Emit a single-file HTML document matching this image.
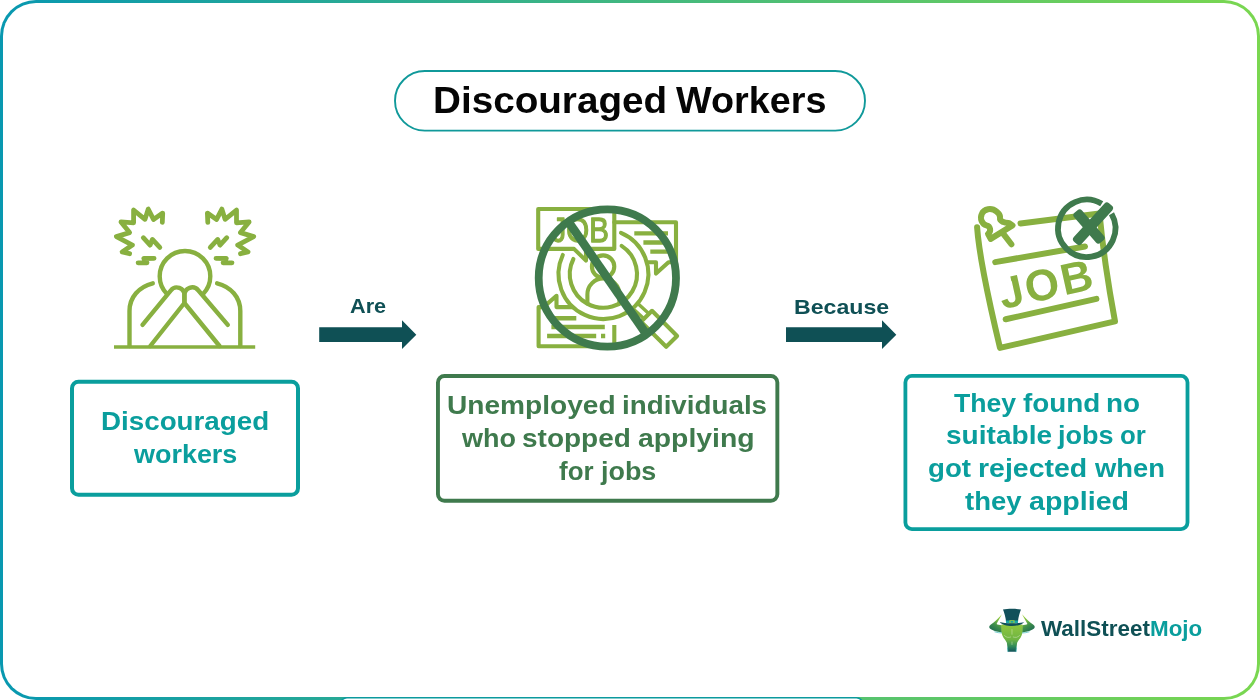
<!DOCTYPE html>
<html lang="en">
<head>
<meta charset="utf-8">
<title>Discouraged Workers</title>
<style>
  html, body { margin: 0; padding: 0; background: #ffffff; }
  body { width: 1260px; height: 700px; position: relative; overflow: hidden;
         font-family: "Liberation Sans", sans-serif; font-weight: bold; }
  .frame { position: absolute; left: 0; top: 0; width: 1260px; height: 700px; border-radius: 36px;
           background: linear-gradient(to right, #0898b0 0%, #7ad750 100%); }
  .frame-inner { position: absolute; left: 3px; top: 3px; width: 1254px; height: 694px; border-radius: 33px; background: #ffffff; }
  #labels { position: absolute; left: 0; top: 0; width: 1260px; height: 700px; will-change: transform; }
  .t { position: absolute; white-space: nowrap; line-height: 1; transform-origin: 0 0; }
  .teal { color: #0a9e9d; }
  .dgreen { color: #3f7a4d; }
  .dteal { color: #0f5055; }
  .blk { color: #050505; }
  .mojo { color: #0a9e9d; }
  svg { position: absolute; left: 0; top: 0; will-change: transform; }
</style>
</head>
<body>
<div class="frame"></div>
<div class="frame-inner"></div>

<svg id="boxes" width="1260" height="700" viewBox="0 0 1260 700">
  <rect x="340.3" y="697.75" width="522.8" height="30" rx="6.7" fill="#ffffff" stroke="#0c9a9e" stroke-width="1.5"/>
  <rect x="395" y="71" width="470" height="59.6" rx="29.8" fill="#ffffff" stroke="#10999a" stroke-width="1.9"/>
  <rect x="72" y="381.8" width="226" height="113" rx="6.5" fill="#ffffff" stroke="#0a9e9d" stroke-width="4"/>
  <rect x="437.95" y="375.95" width="339.4" height="124.85" rx="6.5" fill="#ffffff" stroke="#3f7a4d" stroke-width="3.9"/>
  <rect x="905.4" y="375.9" width="282.1" height="153.2" rx="6.5" fill="#ffffff" stroke="#0a9e9d" stroke-width="3.8"/>
</svg>
<div id="labels">
<!--TEXT-START-->
<div class="t blk" id="t-title1" style="left:433.07px;top:82.98px;font-size:36px;transform:scaleX(1.0736)">Discouraged</div>
<div class="t blk" id="t-title2" style="left:675.87px;top:82.98px;font-size:36px;transform:scaleX(1.0489)">Workers</div>
<div class="t dteal" id="t-are" style="left:349.76px;top:295.98px;font-size:20.4px;transform:scaleX(1.0624)">Are</div>
<div class="t dteal" id="t-because" style="left:793.89px;top:297.01px;font-size:20.6px;transform:scaleX(1.1243)">Because</div>
<div class="t teal" id="b1l1" style="left:100.83px;top:408.96px;font-size:25.5px;transform:scaleX(1.0885)">Discouraged</div>
<div class="t teal" id="b1l2" style="left:133.80px;top:441.96px;font-size:25.5px;transform:scaleX(1.0565)">workers</div>
<div class="t dgreen" id="b2l1a" style="left:447.47px;top:392.96px;font-size:25.5px;transform:scaleX(1.1016)">Unemployed</div>
<div class="t dgreen" id="b2l1b" style="left:621.98px;top:392.96px;font-size:25.5px;transform:scaleX(1.0890)">individuals</div>
<div class="t dgreen" id="b2l2a" style="left:461.50px;top:425.96px;font-size:25.5px;transform:scaleX(1.0581)">who</div>
<div class="t dgreen" id="b2l2b" style="left:521.90px;top:425.96px;font-size:25.5px;transform:scaleX(1.0980)">stopped</div>
<div class="t dgreen" id="b2l2c" style="left:637.85px;top:425.96px;font-size:25.5px;transform:scaleX(1.1124)">applying</div>
<div class="t dgreen" id="b2l3a" style="left:559.21px;top:458.96px;font-size:25.5px;transform:scaleX(1.0168)">for</div>
<div class="t dgreen" id="b2l3b" style="left:600.89px;top:458.96px;font-size:25.5px;transform:scaleX(1.0557)">jobs</div>
<div class="t teal" id="b3l1a" style="left:954.13px;top:390.96px;font-size:25.5px;transform:scaleX(1.0442)">They</div>
<div class="t teal" id="b3l1b" style="left:1023.31px;top:390.96px;font-size:25.5px;transform:scaleX(1.0915)">found</div>
<div class="t teal" id="b3l1c" style="left:1105.92px;top:390.96px;font-size:25.5px;transform:scaleX(1.0924)">no</div>
<div class="t teal" id="b3l2a" style="left:945.99px;top:422.96px;font-size:25.5px;transform:scaleX(1.1009)">suitable</div>
<div class="t teal" id="b3l2b" style="left:1058.39px;top:422.96px;font-size:25.5px;transform:scaleX(1.0595)">jobs</div>
<div class="t teal" id="b3l2c" style="left:1120.48px;top:422.96px;font-size:25.5px;transform:scaleX(1.0134)">or</div>
<div class="t teal" id="b3l3a" style="left:928.21px;top:455.96px;font-size:25.5px;transform:scaleX(1.0846)">got</div>
<div class="t teal" id="b3l3b" style="left:977.59px;top:455.96px;font-size:25.5px;transform:scaleX(1.1170)">rejected</div>
<div class="t teal" id="b3l3c" style="left:1094.90px;top:455.96px;font-size:25.5px;transform:scaleX(1.0718)">when</div>
<div class="t teal" id="b3l4a" style="left:965.22px;top:488.96px;font-size:25.5px;transform:scaleX(1.0792)">they</div>
<div class="t teal" id="b3l4b" style="left:1029.14px;top:488.96px;font-size:25.5px;transform:scaleX(1.1208)">applied</div>
<div class="t dteal" id="t-logo1" style="left:1040.87px;top:619.03px;font-size:21.4px;transform:scaleX(1.0491)">WallStreet</div>
<div class="t mojo" id="t-logo2" style="left:1149.96px;top:619.03px;font-size:21.4px;transform:scaleX(1.0466)">Mojo</div>
<!--TEXT-END-->
</div>

<svg id="art" width="1260" height="700" viewBox="0 0 1260 700">
  <!-- icon 1: stressed person -->
  <g id="icon1" fill="none" stroke="#88b040" stroke-width="4.4" stroke-linecap="round" stroke-linejoin="round">
    <path d="M114 347H255.2" stroke-width="3.6" stroke-linecap="butt"/>
    <path d="M167.1 294.2A25.3 25.3 0 1 1 202.9 294.2"/>
    <path d="M152.8 283.3C139 286.8 129.5 297 129.5 311V346"/>
    <path d="M217.1 283.3C230.8 286.8 240.3 297 240.3 311V346"/>
    <path d="M142.5 324.9L170.9 290.3A7.6 7.6 0 0 1 184.4 295.1V303L150.3 346"/>
    <path d="M227.8 324.9L198.2 290.2A7.8 7.8 0 0 0 184.4 295.1V303L219.5 346"/>
    <g id="burstL" stroke-width="4.8">
      <path d="M162.3 222.3L162.7 213.1L153.5 219.4L148.2 209.1L145 219.4L133.6 210.1L133.6 222.8L121 221.9L129.6 232.6L116.4 236.6L132.4 245.1L122.1 252L129.6 253.7"/>
      <path d="M143.3 237.7L150.1 245.1L152.4 239.4L159.8 247.4"/>
      <path d="M138.1 262.8L147 262.8L143.8 258.5L154.1 258.3"/>
    </g>
    <g id="burstR" stroke-width="4.8" transform="translate(370.1 0) scale(-1 1)">
      <path d="M162.3 222.3L162.7 213.1L153.5 219.4L148.2 209.1L145 219.4L133.6 210.1L133.6 222.8L121 221.9L129.6 232.6L116.4 236.6L132.4 245.1L122.1 252L129.6 253.7"/>
      <path d="M143.3 237.7L150.1 245.1L152.4 239.4L159.8 247.4"/>
      <path d="M138.1 262.8L147 262.8L143.8 258.5L154.1 258.3"/>
    </g>
  </g>
  <!-- icon 2: job search crossed out -->
  <g id="icon2" fill="none" stroke="#88b040" stroke-width="4.1" stroke-linejoin="round" stroke-linecap="round">
    <!-- JOB bubble -->
    <path d="M614.3 248.9H586V260.6L574 248.9H538.2V209H614.3Z"/>
    <!-- right bubble -->
    <path d="M614.3 222.3H676V262.3H668.5L656 273.6V262.3H647"/>
    <path d="M634.3 233.4H668M643.4 242.5H668M650.3 251.6H668" stroke-width="4.4" stroke-linecap="butt"/>
    <!-- bottom-left bubble -->
    <path d="M573 307.1H556.5V295.8L543.5 307.1H538.6V346.2H614.3V325" stroke-linecap="butt"/>
    <path d="M551.4 318.3H576.3M551.4 327H604.8M547.1 336H596.2M601 336H605.2" stroke-width="4.4" stroke-linecap="butt"/>
    <!-- magnifier -->
    <path d="M621.0 232.8A44.9 44.9 0 1 1 562.8 255.0"/>
    <path d="M621.6 245.9A33.6 33.6 0 1 1 573.4 259.0"/>
    <circle cx="603.1" cy="266.6" r="11.2"/>
    <path d="M587.4 303.4V294.4A16 16 0 0 1 619.4 294.4V303.4"/>
    <!-- handle -->
    <path d="M638.9 304.6L649 313.75M633.9 309.6L644 318.75" stroke-width="3.4"/>
    <path d="M652 310.8L677.1 336L666.2 346.8L641 321.7Z"/>
  </g>
  <text id="job2" x="0" y="0" transform="translate(551.6 241.5) scale(0.853 1)" font-family="'Liberation Sans', sans-serif" font-weight="normal" font-size="34.5" fill="#88b040" stroke="#88b040" stroke-width="1.3" stroke-linejoin="round">JOB</text>
  <g id="ban" fill="none" stroke="#3f7a4d">
    <circle cx="607.35" cy="278.05" r="68.65" stroke-width="7.8"/>
    <path d="M568.1 221.3L646.7 334.8" stroke-width="8.6"/>
  </g>
  <!-- icon 3: job notice rejected -->
  <g id="icon3" fill="none" stroke="#88b040" stroke-width="6" stroke-linecap="round" stroke-linejoin="round">
    <path d="M977.1 227.3Q979.5 262 1000 347.9L1115 321.4Q1104 262 1099.5 213.5"/>
    <path d="M1020.5 223.4L1099.5 213.5"/>
    <path d="M995.2 262.1L1085 246.5"/>
    <path d="M1005.7 319.3L1096.4 298.9"/>
    <path d="M990.7 238.9L988.0 233.9C991.4 231.4 990.7 226.4 986.4 225.4C982.1 224.3 979.6 218.6 981.8 213.9C983.9 208.9 991.4 207.1 996.8 211.8C999.3 213.9 1000.4 215.4 1000.0 217.9C999.6 221.4 1004.3 222.9 1008.9 222.9L1012.5 225.4L990.7 238.9Z"/>
    <path d="M1003.2 233.6L1011.4 244.3"/>
  </g>
  <g transform="translate(1002.4 309.2) rotate(-12.5)"><text id="job3" x="0" y="0" font-family="'Liberation Sans', sans-serif" font-weight="bold" font-size="44" letter-spacing="2.35" fill="#88b040">JOB</text><rect x="4" y="-33.5" width="10.8" height="9" fill="#ffffff"/></g>
  <g id="reject" fill="#3f7a4d" stroke="none">
    <path id="rejring" fill="none" stroke="#3f7a4d" stroke-width="5.8" d="M1111.5 213.8A28.7 28.7 0 1 1 1101.7 203.8"/>
    <rect x="-19.85" y="-5.2" width="39.7" height="10.4" rx="3.2" transform="translate(1089 226.5) rotate(49.1)"/>
    <rect x="-26" y="-5.2" width="52" height="10.4" rx="3.2" transform="translate(1093 223.75) rotate(-47.7)"/>
  </g>
  <!-- logo bull -->
  <defs>
    <linearGradient id="gHead" x1="0" y1="0" x2="0" y2="1"><stop offset="0" stop-color="#8fc73e"/><stop offset="0.55" stop-color="#6fb443"/><stop offset="0.8" stop-color="#2f8a5a"/><stop offset="1" stop-color="#11505a"/></linearGradient>
    <linearGradient id="gHornL" x1="0.8" y1="0" x2="0.35" y2="1"><stop offset="0" stop-color="#a4d43a"/><stop offset="0.38" stop-color="#6fb443"/><stop offset="0.62" stop-color="#3f8f4b"/><stop offset="1" stop-color="#1d6a52"/></linearGradient>
    <linearGradient id="gHornR" x1="0.2" y1="0" x2="0.65" y2="1"><stop offset="0" stop-color="#a4d43a"/><stop offset="0.38" stop-color="#6fb443"/><stop offset="0.62" stop-color="#3f8f4b"/><stop offset="1" stop-color="#1d6a52"/></linearGradient>
  </defs>
  <g id="bull" transform="translate(982 600) scale(0.08569)">
    <path fill="url(#gHornL)" d="M232 165C190 215 150 255 100 290C75 308 80 330 110 345C150 365 195 375 232 378L232 295C205 292 180 290 170 280C185 245 215 205 232 165Z"/>
    <path fill="url(#gHornR)" d="M468 165C510 215 550 255 600 290C625 308 620 330 590 345C550 365 505 375 468 378L468 295C495 292 520 290 530 280C515 245 485 205 468 165Z"/>
    <path fill="url(#gHead)" d="M228 285H472C476 330 474 380 462 415C448 450 420 470 410 500C404 535 402 570 398 605H302C298 570 296 535 290 500C280 470 252 450 238 415C226 380 224 330 228 285Z"/>
    <path fill="none" stroke="#22b0b0" stroke-width="7" stroke-linecap="round" d="M299 560L303 603M401 560L397 603M150 372C175 380 205 384 228 385M550 372C525 380 495 384 472 385"/>
    <path fill="none" stroke="#e6f3d4" stroke-width="5" stroke-linecap="round" d="M350 345V400M262 415C285 440 310 440 335 432M438 415C415 440 390 440 365 432M350 490V520"/>
    <path fill="#11505a" d="M245 112C300 100 400 100 455 112C440 150 425 200 420 245H280C275 200 260 150 245 112Z"/>
    <path fill="#1aa6a6" d="M278 238H422L418 272H282Z"/>
    <path fill="#9bd03c" d="M320 236H380V276H320ZM333 246V266H367V246Z" fill-rule="evenodd"/>
    <path fill="#11505a" d="M208 256C260 276 440 276 492 256C450 318 250 318 208 256Z"/>
  </g>
  <!-- arrows -->
  <path fill="#0f5055" d="M319.2 327.2H402V320.2L416.3 334.65L402 349.1V342.1H319.2Z"/>
  <path fill="#0f5055" d="M786 327.2H882V320.2L896.3 334.65L882 349.1V342.1H786Z"/>
</svg>
</body>
</html>
